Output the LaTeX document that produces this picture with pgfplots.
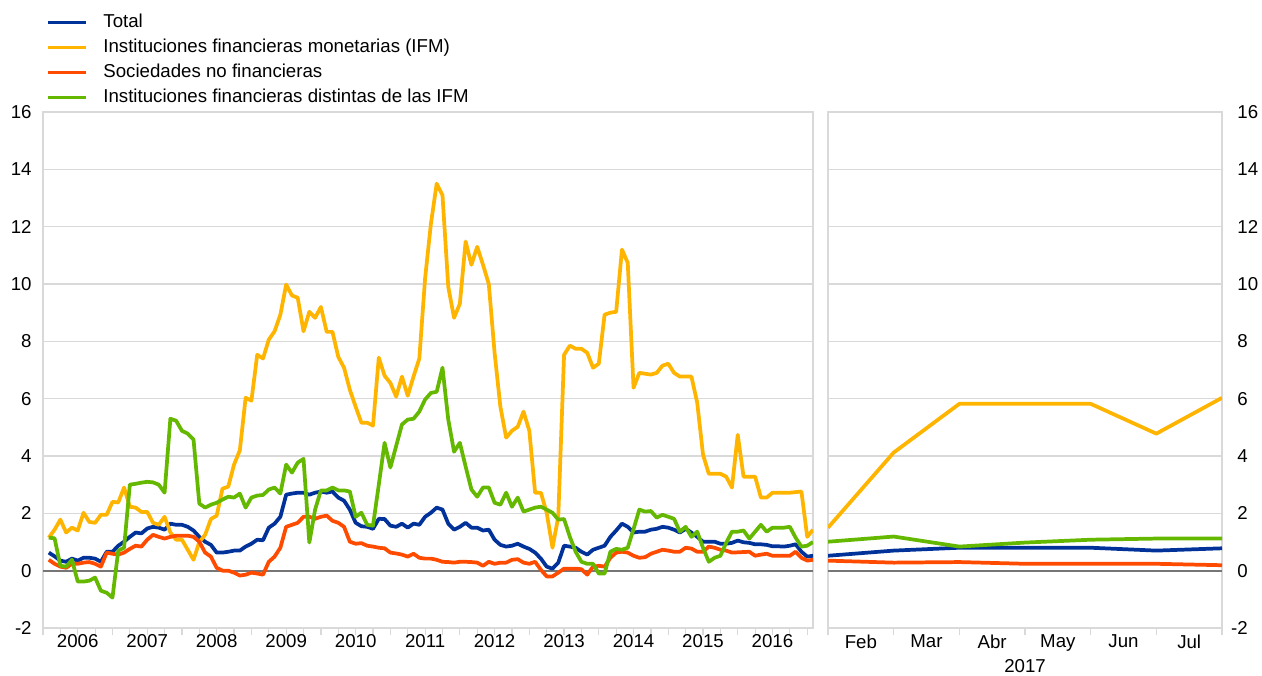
\documentclass[border=0pt]{standalone}
\usepackage{pgfplots}
\pgfplotsset{compat=1.18}
\usepackage{pgfplotstable}
\usepackage{fontspec}
\setmainfont{Liberation Sans}
\definecolor{ecbblue}{RGB}{0,50,153}
\definecolor{ecbyellow}{RGB}{255,180,0}
\definecolor{ecbred}{RGB}{255,75,0}
\definecolor{ecbgreen}{RGB}{101,184,0}
\definecolor{gridgray}{RGB}{217,217,217}
\definecolor{zerogray}{RGB}{118,118,118}
\newcommand\lab{\fontsize{14pt}{16pt}\selectfont}

\pgfplotstableread{
m total ifm snf oifm
1 0.63 1.15 0.38 1.15
2 0.50 1.43 0.24 1.13
3 0.35 1.78 0.14 0.17
4 0.31 1.33 0.10 0.14
5 0.42 1.50 0.24 0.38
6 0.35 1.40 0.24 -0.38
7 0.45 2.02 0.28 -0.38
8 0.45 1.70 0.30 -0.35
9 0.42 1.67 0.24 -0.24
10 0.31 1.95 0.14 -0.70
11 0.66 1.95 0.63 -0.77
12 0.66 2.40 0.59 -0.94
13 0.87 2.38 0.56 0.70
14 1.01 2.90 0.63 0.80
15 1.18 2.23 0.76 3.00
16 1.33 2.20 0.87 3.03
17 1.30 2.05 0.84 3.07
18 1.47 2.05 1.08 3.10
19 1.53 1.67 1.25 3.08
20 1.50 1.60 1.18 3.00
21 1.43 1.88 1.12 2.72
22 1.64 1.33 1.18 5.30
23 1.60 1.08 1.22 5.23
24 1.60 1.08 1.22 4.88
25 1.53 0.73 1.22 4.78
26 1.40 0.38 1.18 4.57
27 1.18 1.00 1.01 2.34
28 1.01 1.25 0.63 2.20
29 0.90 1.80 0.49 2.30
30 0.63 1.92 0.10 2.37
31 0.63 2.86 0.00 2.48
32 0.66 2.93 0.00 2.58
33 0.70 3.70 -0.07 2.55
34 0.70 4.20 -0.17 2.69
35 0.84 6.03 -0.14 2.20
36 0.94 5.93 -0.07 2.55
37 1.08 7.53 -0.10 2.62
38 1.06 7.40 -0.14 2.64
39 1.50 8.06 0.31 2.83
40 1.64 8.35 0.49 2.90
41 1.88 8.93 0.80 2.69
42 2.65 9.98 1.53 3.70
43 2.69 9.60 1.60 3.42
44 2.72 9.52 1.67 3.77
45 2.72 8.35 1.88 3.90
46 2.65 9.03 1.88 0.98
47 2.72 8.82 1.81 2.13
48 2.76 9.20 1.88 2.80
49 2.72 8.33 1.92 2.80
50 2.76 8.33 1.74 2.90
51 2.55 7.46 1.67 2.80
52 2.44 7.08 1.53 2.80
53 2.13 6.31 1.01 2.76
54 1.67 5.72 0.94 1.88
55 1.55 5.16 0.96 2.02
56 1.53 5.16 0.87 1.60
57 1.46 5.06 0.84 1.57
58 1.81 7.43 0.80 3.00
59 1.80 6.80 0.78 4.46
60 1.57 6.55 0.63 3.60
61 1.53 6.07 0.60 4.35
62 1.64 6.77 0.56 5.10
63 1.50 6.10 0.49 5.27
64 1.64 6.77 0.59 5.30
65 1.60 7.40 0.45 5.55
66 1.88 10.20 0.42 5.97
67 2.02 12.10 0.42 6.20
68 2.20 13.50 0.38 6.24
69 2.13 13.10 0.31 7.08
70 1.64 9.90 0.30 5.27
71 1.43 8.82 0.28 4.15
72 1.53 9.31 0.31 4.46
73 1.67 11.48 0.31 3.63
74 1.50 10.67 0.30 2.83
75 1.50 11.30 0.28 2.58
76 1.40 10.67 0.17 2.90
77 1.43 10.00 0.31 2.90
78 1.08 7.60 0.24 2.37
79 0.90 5.72 0.28 2.30
80 0.84 4.64 0.28 2.72
81 0.87 4.88 0.38 2.23
82 0.94 5.02 0.40 2.55
83 0.84 5.55 0.28 2.06
84 0.76 4.88 0.24 2.13
85 0.63 2.72 0.31 2.20
86 0.42 2.72 0.03 2.23
87 0.14 2.02 -0.20 2.13
88 0.07 0.80 -0.20 2.02
89 0.28 1.88 -0.07 1.78
90 0.87 7.53 0.07 1.80
91 0.84 7.85 0.07 1.18
92 0.80 7.74 0.07 0.66
93 0.66 7.74 0.05 0.31
94 0.56 7.60 -0.14 0.24
95 0.73 7.08 0.14 0.24
96 0.80 7.22 0.17 -0.10
97 0.87 8.93 0.14 -0.10
98 1.18 9.00 0.45 0.66
99 1.40 9.03 0.63 0.76
100 1.64 11.20 0.66 0.73
101 1.53 10.74 0.63 0.80
102 1.33 6.38 0.52 1.45
103 1.36 6.90 0.45 2.13
104 1.36 6.87 0.47 2.06
105 1.43 6.84 0.59 2.08
106 1.46 6.90 0.66 1.85
107 1.53 7.15 0.73 1.95
108 1.50 7.22 0.70 1.88
109 1.43 6.90 0.66 1.81
110 1.33 6.77 0.66 1.36
111 1.46 6.77 0.80 1.53
112 1.33 6.77 0.77 1.18
113 1.18 5.86 0.66 1.36
114 1.01 4.05 0.66 0.80
115 1.01 3.38 0.84 0.31
116 1.01 3.38 0.80 0.45
117 0.94 3.38 0.73 0.52
118 0.94 3.28 0.70 0.97
119 0.97 2.90 0.63 1.36
120 1.05 4.74 0.64 1.36
121 0.99 3.28 0.65 1.40
122 0.97 3.28 0.66 1.12
123 0.92 3.28 0.52 1.36
124 0.92 2.55 0.56 1.60
125 0.90 2.55 0.59 1.36
126 0.85 2.72 0.52 1.50
127 0.85 2.72 0.52 1.50
128 0.84 2.72 0.52 1.50
129 0.87 2.72 0.52 1.53
130 0.92 2.74 0.66 1.15
131 0.66 2.76 0.45 0.84
132 0.49 1.18 0.35 0.87
133 0.52 1.43 0.38 1.00
}\lefttable

\pgfplotstableread{
m total ifm snf oifm
0 0.52 1.50 0.35 1.01
1 0.70 4.12 0.28 1.19
2 0.80 5.82 0.30 0.84
3 0.80 5.82 0.24 0.98
4 0.80 5.82 0.24 1.08
5 0.70 4.78 0.24 1.12
6 0.78 6.03 0.19 1.12
}\righttable

\pgfplotsset{
  common/.style={
    scale only axis, anchor=south west, height=387pt,
    ymin=-2, ymax=16, ytick={-2,0,...,16},
    ymajorgrids, grid style={gridgray, line width=0.9pt},
    axis line style={gridgray, line width=0.9pt},
    extra y ticks={0}, extra y tick labels={},
    extra y tick style={major grid style={zerogray, line width=1.5pt}},
    major tick length=0pt, minor tick length=5pt, tick align=outside,
    tick style={gridgray, line width=0.9pt},
    xtick pos=bottom,
    /pgf/number format/assume math mode=true,
    ticklabel style={font=\lab, text=black},
    xticklabel style={yshift=-1.5pt},
    every axis plot/.append style={line width=2.8pt, line join=round, no markers},
  }
}

\begin{document}
\begin{tikzpicture}
\useasboundingbox (0pt,0pt) rectangle (946.5pt,506.25pt);
\begin{axis}[common, at={(32.25pt,35.25pt)}, width=577.5pt,
  xmin=0, xmax=133,
  xtick={6,18,...,126},
  xticklabels={2006,2007,2008,2009,2010,2011,2012,2013,2014,2015,2016},
  minor xtick={0,3,...,132},
  yticklabel style={xshift=-5pt},
  legend cell align=left,
  legend image code/.code={\draw[#1, line width=2.6pt] (0pt,0pt) -- (28pt,0pt);},
  legend style={at={(0,1)}, anchor=south west, draw=none, fill=none,
    xshift=2.5pt, yshift=4pt, inner sep=0pt, font=\lab, row sep=5.75pt,
    nodes={inner sep=0pt, text height=10pt, text depth=3pt},
    /tikz/every odd column/.append style={column sep=12pt}},
]
\addplot[ecbblue] table[x=m, y=total] {\lefttable};
\addlegendentry{Total}
\addplot[ecbyellow] table[x=m, y=ifm] {\lefttable};
\addlegendentry{Instituciones financieras monetarias (IFM)}
\addplot[ecbred] table[x=m, y=snf] {\lefttable};
\addlegendentry{Sociedades no financieras}
\addplot[ecbgreen] table[x=m, y=oifm] {\lefttable};
\addlegendentry{Instituciones financieras distintas de las IFM}
\end{axis}
\begin{axis}[common, at={(621pt,35.25pt)}, width=295.5pt,
  xmin=0, xmax=6,
  xtick={0.5,1.5,2.5,3.5,4.5,5.5},
  xticklabels={Feb,Mar,Abr,May,Jun,Jul},
  minor xtick={0,1,...,6},
  yticklabel pos=right,
  yticklabels={\llap{-}2,0,2,4,6,8,10,12,14,16},
  yticklabel style={anchor=west, xshift=8pt},
  xlabel={2017}, xlabel style={font=\lab, yshift=1pt},
]
\addplot[ecbblue] table[x=m, y=total] {\righttable};
\addplot[ecbyellow] table[x=m, y=ifm] {\righttable};
\addplot[ecbred] table[x=m, y=snf] {\righttable};
\addplot[ecbgreen] table[x=m, y=oifm] {\righttable};
\end{axis}
\end{tikzpicture}
\end{document}
